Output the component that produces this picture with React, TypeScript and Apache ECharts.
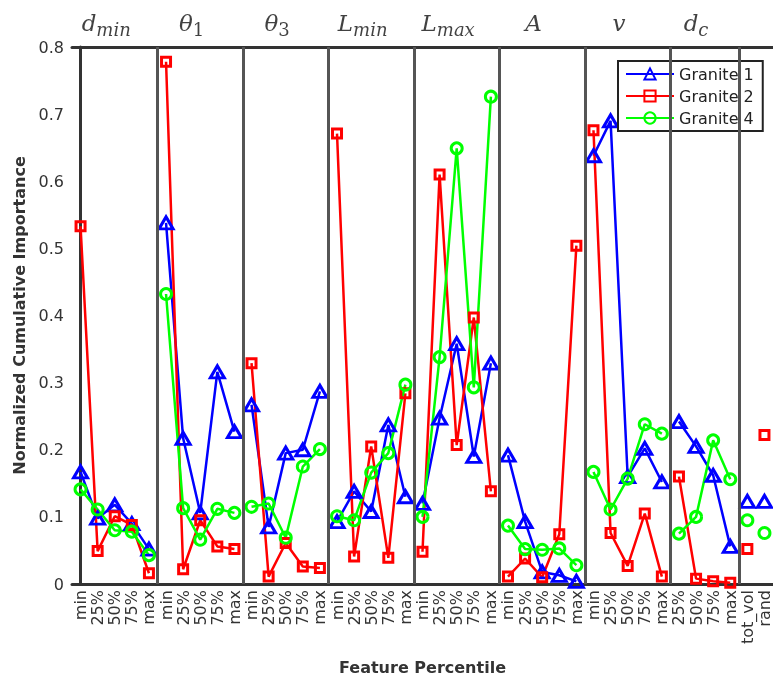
import React, { useEffect, useRef } from "react";
import * as echarts from "echarts";

// Feature titles (base_subscript) and x tick labels per group
const featureTitles = ["d_min", "θ_1", "θ_3", "L_min", "L_max", "A", "v", "d_c"];
const titlePositions = [1.5, 6.5, 11.5, 16.5, 21.5, 26.5, 31.5, 36];
const pct = ["min", "25%", "50%", "75%", "max"];
const dcPct = ["25%", "50%", "75%", "max"];
const groupLabels: string[][] = [pct, pct, pct, pct, pct, pct, pct, dcPct, ["tot_vol"], ["rand"]];
const dividerPositions = [4.5, 9.5, 14.5, 19.5, 24.5, 29.5, 34.5, 38.5];

const granite1 = [
  0.167, 0.098, 0.118, 0.09, 0.052,
  0.538, 0.217, 0.106, 0.316, 0.227,
  0.267, 0.085, 0.195, 0.2, 0.287,
  0.093, 0.138, 0.108, 0.237, 0.13,
  0.12, 0.247, 0.358, 0.19, 0.329,
  0.192, 0.093, 0.018, 0.013, 0.004,
  0.638, 0.69, 0.16, 0.202, 0.152,
  0.242, 0.205, 0.162, 0.056,
  0.123,
  0.123,
];
const granite2 = [
  0.533, 0.049, 0.101, 0.088, 0.016,
  0.778, 0.022, 0.095, 0.056, 0.052,
  0.329, 0.011, 0.061, 0.026, 0.024,
  0.671, 0.041, 0.205, 0.039, 0.284,
  0.048, 0.61, 0.207, 0.397, 0.138,
  0.011, 0.038, 0.01, 0.074, 0.504,
  0.676, 0.076, 0.027, 0.105, 0.011,
  0.16, 0.008, 0.004, 0.002,
  0.052,
  0.222,
];
const granite4 = [
  0.141, 0.111, 0.08, 0.078, 0.043,
  0.432, 0.113, 0.066, 0.112, 0.106,
  0.115, 0.12, 0.069, 0.175, 0.201,
  0.101, 0.095, 0.166, 0.195, 0.297,
  0.1, 0.338, 0.649, 0.293, 0.726,
  0.087, 0.052, 0.051, 0.053, 0.028,
  0.167, 0.111, 0.157, 0.238, 0.224,
  0.075, 0.1, 0.214, 0.156,
  0.095,
  0.076,
];

const seriesDefs = [
  { name: "Granite 1", values: granite1, color: "#0000ff", symbol: "triangle", size: [14, 12] },
  { name: "Granite 2", values: granite2, color: "#ff0000", symbol: "rect", size: 9 },
  { name: "Granite 4", values: granite4, color: "#00ff00", symbol: "circle", size: 11 },
];

export default function App() {
  const ref = useRef<HTMLDivElement>(null);
  useEffect(() => {
    if (!ref.current) return;
    const chart = echarts.init(ref.current, null, { renderer: "svg" });

    const categories: string[] = [];
    const groupRanges: [number, number][] = [];
    groupLabels.forEach((g, gi) => {
      const start = categories.length;
      g.forEach((l) => categories.push(gi + ":" + l));
      groupRanges.push([start, categories.length]);
    });

    const lineSeries: any[] = [];
    seriesDefs.forEach((def) => {
      groupRanges.forEach(([s, e]) => {
        const data = categories.map((_, i) => (i >= s && i < e ? def.values[i] : null));
        lineSeries.push({
          type: "line",
          name: def.name,
          xAxisIndex: 0,
          yAxisIndex: 0,
          data,
          symbol: def.symbol,
          symbolSize: def.size,
          showAllSymbol: true,
          connectNulls: false,
          clip: false,
          lineStyle: { color: def.color, width: 2.5 },
          itemStyle: { color: "rgba(255,255,255,0)", borderColor: def.color, borderWidth: 3 },
          emphasis: { disabled: true },
        });
      });
    });

    const serif = "DejaVu Serif";
    const titleRich = {
      m: { fontFamily: serif, fontStyle: "italic", fontSize: 23, color: "#111", verticalAlign: "bottom", padding: [0, 0, 4, 0] },
      s: { fontFamily: serif, fontStyle: "italic", fontSize: 18, color: "#111", verticalAlign: "bottom" },
      n: { fontFamily: serif, fontSize: 18, color: "#111", verticalAlign: "bottom" },
    };

    const titleData = titlePositions.map((x) => [x, 0.8]);

    const option: any = {
      animation: false,
      grid: { left: 72, right: 0, top: 47, bottom: 98, containLabel: false },
      legend: {
        data: seriesDefs.map((d) => d.name),
        orient: "vertical",
        left: 618,
        top: 61,
        backgroundColor: "#fff",
        borderColor: "#222",
        borderWidth: 2,
        borderRadius: 0,
        padding: [5, 9, 5, 7],
        itemGap: 6,
        itemWidth: 48,
        itemHeight: 14,
        textStyle: { fontFamily: "DejaVu Sans", fontSize: 16, color: "#222" },
        selectedMode: false,
      },
      xAxis: [
        {
          type: "category",
          data: categories,
          boundaryGap: true,
          position: "bottom",
          name: "Feature Percentile",
          nameLocation: "middle",
          nameGap: 75,
          nameMoveOverlap: false,
          nameTextStyle: { fontFamily: "DejaVu Sans", fontWeight: "bold", fontSize: 16, color: "#333" },
          axisLine: { show: true, lineStyle: { color: "#333", width: 3 } },
          axisTick: { show: false },
          splitLine: { show: false },
          axisLabel: {
            interval: 0,
            rotate: 90,
            margin: 6,
            fontFamily: "DejaVu Sans",
            fontSize: 16,
            color: "#333",
            formatter: (v: string) => v.slice(v.indexOf(":") + 1),
          },
        },
        {
          type: "value",
          min: -0.5,
          max: 40.5,
          position: "top",
          axisLine: { show: true, onZero: false, lineStyle: { color: "#333", width: 3 } },
          axisTick: { show: false },
          axisLabel: { show: false },
          splitLine: { show: false },
        },
      ],
      yAxis: {
        type: "value",
        min: 0,
        max: 0.8,
        interval: 0.1,
        name: "Normalized Cumulative Importance",
        nameLocation: "middle",
        nameGap: 45,
        nameTextStyle: { fontFamily: "DejaVu Sans", fontWeight: "bold", fontSize: 16, color: "#333" },
        axisLine: { show: true, lineStyle: { color: "#333", width: 3 } },
        axisTick: { show: false },
        splitLine: { show: false },
        axisLabel: {
          margin: 8,
          fontFamily: "DejaVu Sans",
          fontSize: 16,
          color: "#333",
          formatter: (v: number) => (v === 0 ? "0" : v.toFixed(1)),
        },
      },
      series: [
        {
          type: "scatter",
          name: "titles",
          xAxisIndex: 1,
          yAxisIndex: 0,
          data: titleData,
          symbolSize: 0,
          clip: false,
          silent: true,
          z: 1,
          label: {
            show: true,
            position: "top",
            distance: 9,
            rich: titleRich,
            formatter: (p: any) => {
              const t = featureTitles[p.dataIndex];
              const [base, sub] = t.split("_");
              if (!sub) return `{m|${base}}`;
              const subStyle = /^\d+$/.test(sub) ? "n" : "s";
              return `{m|${base}}{${subStyle}|${sub}}`;
            },
          },
          markLine: {
            silent: true,
            symbol: "none",
            label: { show: false },
            lineStyle: { color: "#555", width: 3, type: "solid" },
            data: dividerPositions.map((x) => ({ xAxis: x })),
          },
        },
        ...lineSeries,
      ],
    };
    chart.setOption(option);
    return () => chart.dispose();
  }, []);
  return <div ref={ref} style={{ position: "fixed", left: 0, top: 0, width: 773, height: 682 }} />;
}
